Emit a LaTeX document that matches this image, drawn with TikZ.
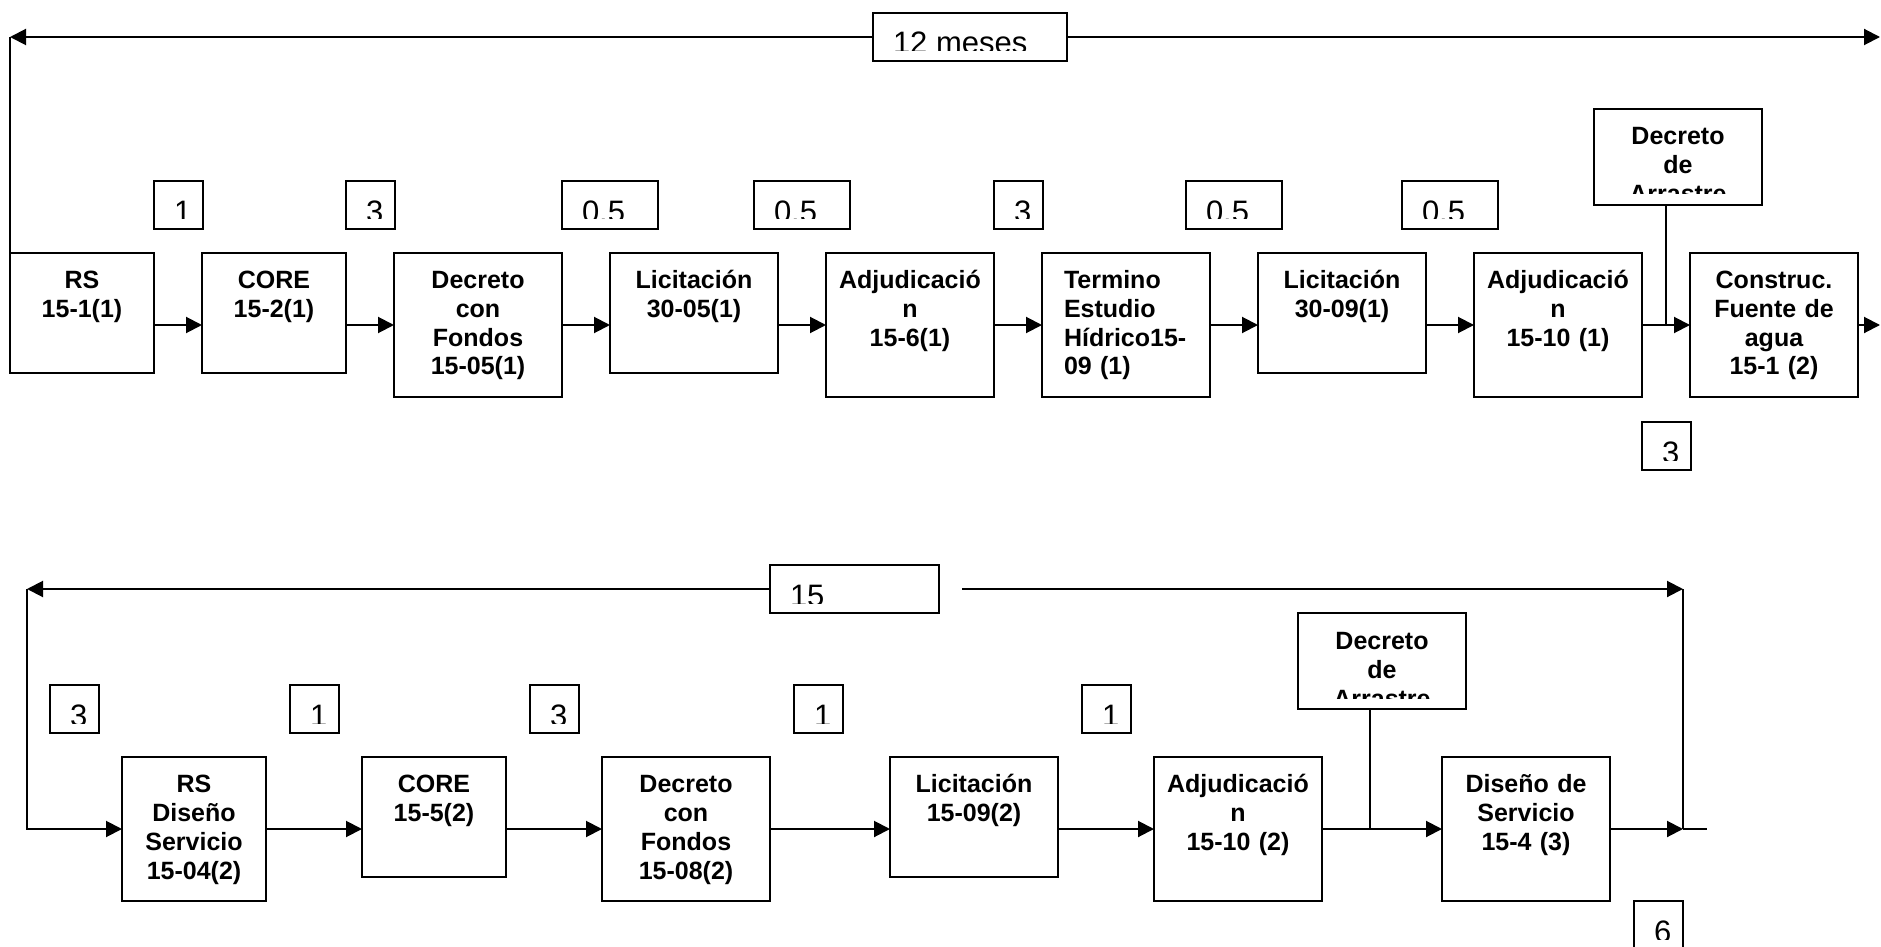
\documentclass[tikz,border=0pt]{standalone}
\usepackage{fontspec}
\setmainfont{Liberation Sans}
\usetikzlibrary{arrows.meta,positioning,calc}

\newcommand{\boxfont}{\bfseries\fontsize{12.5pt}{14.5pt}\selectfont}
\newcommand{\tagfont}{\fontsize{15.5pt}{18pt}\selectfont}

\begin{document}
\begin{tikzpicture}[
    x=0.5pt, y=-0.5pt,
    node distance=24pt and 24pt,
    stage/.style={draw, line width=1pt, outer sep=0pt, font=\boxfont, align=center,
        inner xsep=0pt, inner ysep=0pt, text width=84pt,
        text height=17.5pt, text depth=42.5pt},
    narrow/.style={stage, text width=72pt},
    tall/.style={text depth=54.5pt},
    inside/.style={draw=none, fill=none, inner sep=0pt, outer sep=0pt,
        minimum width=0pt, minimum height=0pt},
    tag/.style={draw, line width=1pt, fill=white, inner sep=0pt, outer sep=0pt,
        minimum height=24pt, minimum width=24.5pt,
        path picture={
            \clip (path picture bounding box.north west) rectangle
                ([yshift=5pt]path picture bounding box.south east);
            \node[inside, anchor=base west, font=\tagfont]
                at ([xshift=10pt,yshift=-20.5pt]path picture bounding box.north west) {#1};
        }},
    decree/.style={draw, line width=1pt, fill=white, inner sep=0pt, outer sep=0pt,
        minimum width=84pt, minimum height=48pt,
        path picture={
            \clip (path picture bounding box.north west) rectangle
                ([yshift=5.5pt]path picture bounding box.south east);
            \node[inside, anchor=base, font=\boxfont, align=center, text width=84pt]
                at ([yshift=-18pt]path picture bounding box.north) {#1};
        }},
    flow/.style={-{Triangle[length=8pt,width=8pt]}, line width=1pt},
    link/.style={line width=0.8pt}
]
\useasboundingbox (0,0) rectangle (1881,947);
\clip (0,0) rectangle (1881,947);

\node[narrow, anchor=north west] (rs) at (10,253) {RS\\15-1(1)};
\node[narrow, right=of rs.north east, anchor=north west] (core) {CORE\\15-2(1)};
\node[stage, tall, right=of core.north east, anchor=north west] (fondos) {Decreto\\con\\Fondos\\15-05(1)};
\node[stage, right=of fondos.north east, anchor=north west] (licA) {Licitación\\30-05(1)};
\node[stage, tall, right=of licA.north east, anchor=north west] (adjA) {Adjudicació\\n\\15-6(1)};
\node[stage, tall, align=left, text width=62pt, inner xsep=11pt,
    right=of adjA.north east, anchor=north west] (estudio) {Termino\\Estudio\\Hídrico15-\\09 (1)};
\node[stage, right=of estudio.north east, anchor=north west] (licB) {Licitación\\30-09(1)};
\node[stage, tall, right=of licB.north east, anchor=north west] (adjB) {Adjudicació\\n\\15-10 (1)};
\node[stage, tall, right=of adjB.north east, anchor=north west] (fuente) {Construc.\\Fuente de\\agua\\15-1 (2)};

\coordinate (gapA) at ($(licA.north east)!.5!(adjA.north west)$);
\coordinate (gapB) at ($(estudio.north east)!.5!(licB.north west)$);
\coordinate (gapC) at ($(licB.north east)!.5!(adjB.north west)$);
\node[tag=1, above right=12pt and 0pt of rs.north east] (t1) {};
\node[tag=3, above right=12pt and 0pt of core.north east] (t2) {};
\node[tag=0.5, minimum width=48pt, above right=12pt and 0pt of fondos.north east] (t3) {};
\node[tag=0.5, minimum width=48pt, above=12pt of gapA] (t4) {};
\node[tag=3, above right=12pt and 0pt of adjA.north east] (t5) {};
\node[tag=0.5, minimum width=48pt, above=12pt of gapB] (t6) {};
\node[tag=0.5, minimum width=48pt, above=12pt of gapC] (t7) {};
\node[tag=3, below right=12.5pt and 0pt of adjB.south east] (t8) {};
\node[decree={Decreto\\de\\Arrastre}, above right=24pt and -24pt of adjB.north east] (arrA) {};

\node[tag=12 meses, minimum width=97pt, anchor=north west] (span1) at (873,13) {};
\coordinate (end1) at (1880,37);
\coordinate (edge1) at (1880,325);
\coordinate (lane1) at (fondos.east);
\coordinate (drop1) at ([xshift=36pt]arrA.south west);

\draw[flow] (span1.west) -- (rs.north west |- span1.west);
\draw[link] (rs.north west |- span1.west) -- (rs.north west);
\draw[flow] (span1.east) -- (end1);
\draw[flow] (rs.east |- lane1) -- (core.west |- lane1);
\draw[flow] (core.east |- lane1) -- (fondos.west);
\draw[flow] (fondos.east) -- (licA.west |- lane1);
\draw[flow] (licA.east |- lane1) -- (adjA.west);
\draw[flow] (adjA.east) -- (estudio.west);
\draw[flow] (estudio.east) -- (licB.west |- lane1);
\draw[flow] (licB.east |- lane1) -- (adjB.west);
\draw[flow] (adjB.east) -- (fuente.west);
\draw[flow] (fuente.east) -- (edge1);
\draw[link] (drop1) -- (drop1 |- lane1);

\node[narrow, tall, anchor=north west] (rsdiseno) at (122,757) {RS\\Diseño\\Servicio\\15-04(2)};
\node[narrow, right=48pt of rsdiseno.north east, anchor=north west] (coreS) {CORE\\15-5(2)};
\node[stage, tall, right=48pt of coreS.north east, anchor=north west] (fondosS) {Decreto\\con\\Fondos\\15-08(2)};
\node[stage, right=60pt of fondosS.north east, anchor=north west] (licS) {Licitación\\15-09(2)};
\node[stage, tall, right=48pt of licS.north east, anchor=north west] (adjS) {Adjudicació\\n\\15-10 (2)};
\node[stage, tall, right=60pt of adjS.north east, anchor=north west] (diseno) {Diseño de\\Servicio\\15-4 (3)};

\node[tag=15, minimum width=84.5pt, anchor=north west] (span2) at (770,565) {};
\coordinate (back2) at (27,589);
\coordinate (resume2) at (962,589);
\coordinate (turn2) at (1683,589);
\coordinate (tail2) at (1707,829);
\coordinate (lane2) at (fondosS.east);
\coordinate (start2) at (back2 |- rsdiseno.north);
\coordinate (corner6) at (turn2 |- diseno.south);

\node[tag=3, above right=12pt and 11.5pt of start2] (u1) {};
\node[tag=1, above right=12pt and 12pt of rsdiseno.north east] (u2) {};
\node[tag=3, above right=12pt and 12pt of coreS.north east] (u3) {};
\node[tag=1, above right=12pt and 12pt of fondosS.north east] (u4) {};
\node[tag=1, above right=12pt and 12pt of licS.north east] (u5) {};
\node[tag=6, below left=0pt and 0pt of corner6] (u6) {};
\node[decree={Decreto\\de\\Arrastre}, above right=24pt and -12pt of adjS.north east] (arrS) {};
\coordinate (drop2) at ([xshift=36pt]arrS.south west);

\draw[flow] (span2.west) -- (back2);
\draw[flow] (back2) |- (rsdiseno.west |- lane2);
\draw[flow] (rsdiseno.east |- lane2) -- (coreS.west |- lane2);
\draw[flow] (coreS.east |- lane2) -- (fondosS.west);
\draw[flow] (fondosS.east) -- (licS.west |- lane2);
\draw[flow] (licS.east |- lane2) -- (adjS.west);
\draw[flow] (adjS.east) -- (diseno.west);
\draw[flow] (diseno.east) -- (turn2 |- lane2);
\draw[line width=1pt] (turn2 |- lane2) -- (tail2);
\draw[link] (drop2) -- (drop2 |- lane2);
\draw[flow] (resume2) -- (turn2);
\draw[link] (turn2) -- (turn2 |- lane2);
\end{tikzpicture}
\end{document}
